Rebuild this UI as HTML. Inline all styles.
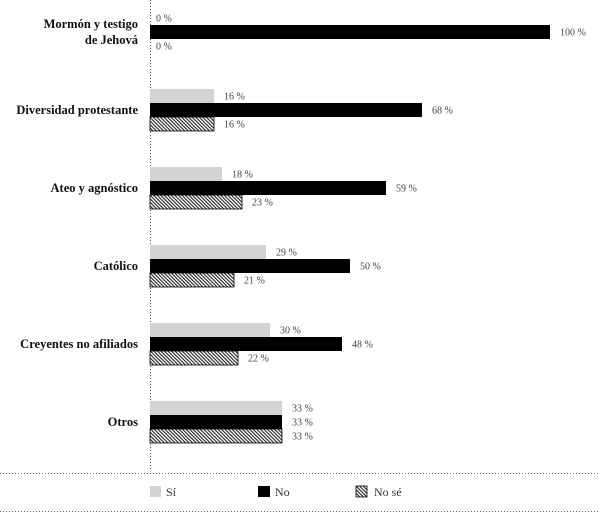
<!DOCTYPE html>
<html><head><meta charset="utf-8"><style>
body{margin:0;background:#fff;}
svg{display:block;font-family:"Liberation Serif",serif;}
</style></head><body>
<svg id="c" width="600" height="517">
<defs><pattern id="hatch" width="2.5" height="2.5" patternUnits="userSpaceOnUse" patternTransform="rotate(-45)"><rect width="2.5" height="2.5" fill="#fff"/><rect width="1.1" height="2.5" fill="#222"/></pattern></defs>
<line x1="150.5" y1="0" x2="150.5" y2="470" stroke="#555" stroke-dasharray="1,2"/>
<line x1="0" y1="473.5" x2="600" y2="473.5" stroke="#666" stroke-dasharray="1,2"/>
<line x1="0" y1="511.5" x2="600" y2="511.5" stroke="#666" stroke-dasharray="1,2"/>
<g id="bars"></g>
<g>
<rect x="150" y="486" width="11" height="11" fill="#d3d3d3"/>
<text x="166" y="496" font-size="12" fill="#333">Sí</text>
<rect x="258" y="486" width="12" height="11" fill="#000"/>
<text x="275" y="496" font-size="12" fill="#333">No</text>
<rect x="356" y="486" width="11" height="11" fill="url(#hatch)" stroke="#000" stroke-width="0.8"/>
<text x="374" y="496" font-size="12" fill="#333">No sé</text>
</g>
</svg>
<script>
const categories=[["Mormón y testigo","de Jehová"],["Diversidad protestante"],["Ateo y agnóstico"],["Católico"],["Creyentes no afiliados"],["Otros"]];
const si=[0,16,18,29,30,33];
const no=[100,68,59,50,48,33];
const nose=[0,16,23,21,22,33];
const x0=150, scale=4, firstCenter=32, step=78, bh=14;
const g=document.getElementById('bars');
const NS='http://www.w3.org/2000/svg';
const xs=v=>v*scale;
function mk(t,a){const e=document.createElementNS(NS,t);for(const k in a)e.setAttribute(k,a[k]);g.appendChild(e);return e;}
categories.forEach((cat,i)=>{
  const cy=firstCenter+i*step;
  const series=[[si[i],'#d3d3d3','si'],[no[i],'#000','no'],[nose[i],'url(#hatch)','nose']];
  series.forEach((s,j)=>{
    const y=cy-bh/2+(j-1)*bh;
    if(s[0]>0){
      const r=mk('rect',{x:x0,y:y,width:xs(s[0]),height:bh,fill:s[1]});
      if(j==2){r.setAttribute('stroke','#000');r.setAttribute('stroke-width','0.8');}
      
      
    }
    const t=mk('text',{x:x0+xs(s[0])+(s[0]>0?10:6),y:y+bh/2+3.5,'font-size':'10',fill:'#444'});
    t.textContent=s[0]+' %';
    
    
  });
  const lt=mk('text',{x:138,'text-anchor':'end','font-size':'12.5','font-weight':'bold',fill:'#111'});
  
  
  const n=cat.length;
  cat.forEach((line,k)=>{
    const ts=document.createElementNS(NS,'tspan');
    ts.setAttribute('x',138);
    ts.setAttribute('y',cy+4+(k-(n-1)/2)*16);
    ts.textContent=line;lt.appendChild(ts);
  });
});
</script>
</body></html>
